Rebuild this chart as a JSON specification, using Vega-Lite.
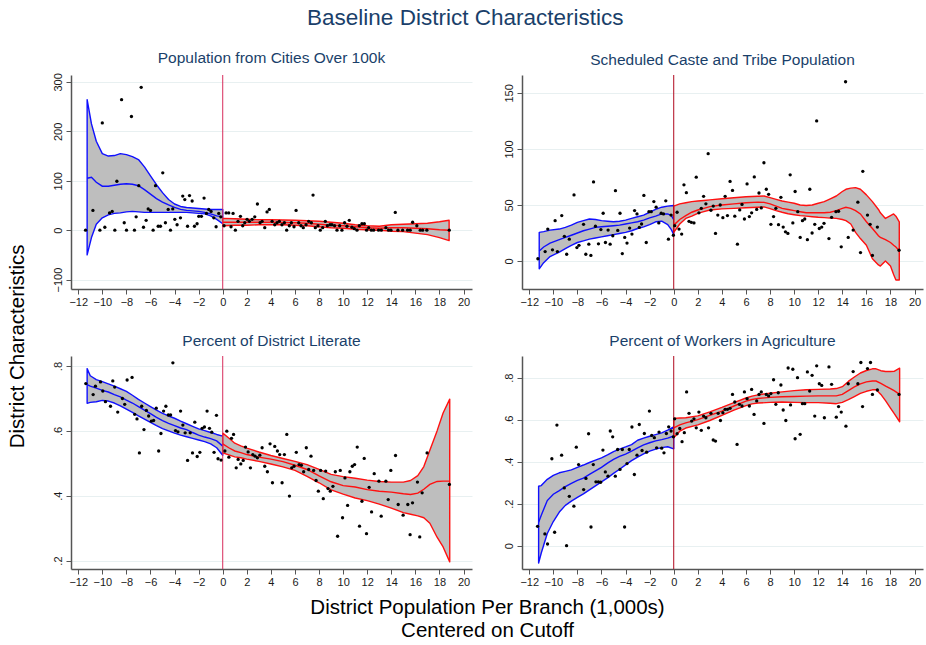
{
  "$schema": "https://vega.github.io/schema/vega-lite/v6.json",
  "background": "white",
  "padding": {"left": 7, "top": 6, "right": 2, "bottom": 0},
  "title": {"text": "Baseline District Characteristics", "fontSize": 22.5, "color": "#1a3f6a", "offset": 22},
  "datasets": {
    "pts": [
      {"p":"a","x":-11.39,"y":0},{"p":"a","x":-10.78,"y":40},{"p":"a","x":-10.0,"y":217},{"p":"a","x":-10.2,"y":0},{"p":"a","x":-9.79,"y":6},{"p":"a","x":-9.4,"y":35},{"p":"a","x":-9.18,"y":38},{"p":"a","x":-8.96,"y":0},{"p":"a","x":-8.79,"y":99},{"p":"a","x":-8.4,"y":264},{"p":"a","x":-8.18,"y":15},{"p":"a","x":-7.99,"y":0},{"p":"a","x":-7.58,"y":230},{"p":"a","x":-7.33,"y":0},{"p":"a","x":-7.19,"y":27},{"p":"a","x":-6.97,"y":90},{"p":"a","x":-6.77,"y":289},{"p":"a","x":-6.58,"y":6},{"p":"a","x":-6.36,"y":20},{"p":"a","x":-6.19,"y":43},{"p":"a","x":-6.0,"y":40},{"p":"a","x":-5.78,"y":0},{"p":"a","x":-5.58,"y":90},{"p":"a","x":-5.36,"y":8},{"p":"a","x":-5.17,"y":8},{"p":"a","x":-4.98,"y":116},{"p":"a","x":-4.76,"y":15},{"p":"a","x":-4.53,"y":42},{"p":"a","x":-4.34,"y":0},{"p":"a","x":-4.15,"y":43},{"p":"a","x":-3.98,"y":22},{"p":"a","x":-3.79,"y":11},{"p":"a","x":-3.51,"y":25},{"p":"a","x":-3.32,"y":69},{"p":"a","x":-3.15,"y":62},{"p":"a","x":-2.92,"y":8},{"p":"a","x":-2.76,"y":70},{"p":"a","x":-2.54,"y":59},{"p":"a","x":-2.35,"y":8},{"p":"a","x":-2.13,"y":13},{"p":"a","x":-1.99,"y":28},{"p":"a","x":-1.77,"y":28},{"p":"a","x":-1.55,"y":65},{"p":"a","x":-1.35,"y":34},{"p":"a","x":-1.16,"y":42},{"p":"a","x":-0.97,"y":38},{"p":"a","x":-0.74,"y":25},{"p":"a","x":-0.55,"y":7},{"p":"a","x":-0.33,"y":34},{"p":"a","x":-0.16,"y":27},
      {"p":"a","x":0.11,"y":9},{"p":"a","x":0.28,"y":35},{"p":"a","x":0.5,"y":35},{"p":"a","x":0.69,"y":7},{"p":"a","x":0.86,"y":34},{"p":"a","x":1.05,"y":0},{"p":"a","x":1.27,"y":18},{"p":"a","x":1.47,"y":28},{"p":"a","x":1.66,"y":9},{"p":"a","x":1.83,"y":15},{"p":"a","x":2.02,"y":22},{"p":"a","x":2.21,"y":18},{"p":"a","x":2.44,"y":22},{"p":"a","x":2.66,"y":27},{"p":"a","x":2.88,"y":53},{"p":"a","x":3.1,"y":15},{"p":"a","x":3.27,"y":18},{"p":"a","x":3.49,"y":5},{"p":"a","x":3.68,"y":37},{"p":"a","x":3.87,"y":42},{"p":"a","x":4.1,"y":18},{"p":"a","x":4.32,"y":11},{"p":"a","x":4.51,"y":15},{"p":"a","x":4.7,"y":18},{"p":"a","x":4.92,"y":11},{"p":"a","x":5.12,"y":15},{"p":"a","x":5.31,"y":0},{"p":"a","x":5.53,"y":9},{"p":"a","x":5.7,"y":15},{"p":"a","x":5.92,"y":7},{"p":"a","x":6.09,"y":40},{"p":"a","x":6.31,"y":15},{"p":"a","x":6.5,"y":9},{"p":"a","x":6.69,"y":5},{"p":"a","x":6.92,"y":11},{"p":"a","x":7.14,"y":18},{"p":"a","x":7.36,"y":15},{"p":"a","x":7.5,"y":71},{"p":"a","x":7.69,"y":5},{"p":"a","x":7.91,"y":9},{"p":"a","x":8.1,"y":0},{"p":"a","x":8.3,"y":5},{"p":"a","x":8.52,"y":18},{"p":"a","x":8.69,"y":9},{"p":"a","x":8.91,"y":11},{"p":"a","x":9.07,"y":11},{"p":"a","x":9.29,"y":9},{"p":"a","x":9.49,"y":0},{"p":"a","x":9.71,"y":9},{"p":"a","x":9.9,"y":0},{"p":"a","x":10.12,"y":15},{"p":"a","x":10.32,"y":8},{"p":"a","x":10.51,"y":20},{"p":"a","x":10.73,"y":6},{"p":"a","x":10.93,"y":3},{"p":"a","x":11.15,"y":0},{"p":"a","x":11.34,"y":9},{"p":"a","x":11.56,"y":13},{"p":"a","x":11.76,"y":13},{"p":"a","x":11.95,"y":0},{"p":"a","x":12.12,"y":5},{"p":"a","x":12.34,"y":0},{"p":"a","x":12.53,"y":0},{"p":"a","x":12.94,"y":0},{"p":"a","x":13.17,"y":0},{"p":"a","x":13.55,"y":5},{"p":"a","x":13.77,"y":0},{"p":"a","x":13.97,"y":0},{"p":"a","x":14.33,"y":36},{"p":"a","x":14.55,"y":0},{"p":"a","x":14.94,"y":0},{"p":"a","x":15.35,"y":0},{"p":"a","x":15.57,"y":0},{"p":"a","x":15.77,"y":16},{"p":"a","x":16.12,"y":9},{"p":"a","x":16.4,"y":0},{"p":"a","x":16.6,"y":0},{"p":"a","x":16.95,"y":0},{"p":"a","x":18.81,"y":0},
      {"p":"b","x":-11.28,"y":2},{"p":"b","x":-10.68,"y":8.4},{"p":"b","x":-10.46,"y":28.5},{"p":"b","x":-10.07,"y":10},{"p":"b","x":-9.85,"y":36},{"p":"b","x":-9.66,"y":8.4},{"p":"b","x":-9.3,"y":40.5},{"p":"b","x":-9.08,"y":22},{"p":"b","x":-8.89,"y":6},{"p":"b","x":-8.67,"y":19.5},{"p":"b","x":-8.28,"y":59},{"p":"b","x":-8.04,"y":12},{"p":"b","x":-7.87,"y":14},{"p":"b","x":-7.49,"y":32.7},{"p":"b","x":-7.3,"y":6},{"p":"b","x":-7.05,"y":15},{"p":"b","x":-6.88,"y":5},{"p":"b","x":-6.66,"y":70.6},{"p":"b","x":-6.5,"y":31},{"p":"b","x":-6.25,"y":15.3},{"p":"b","x":-6.05,"y":28},{"p":"b","x":-5.86,"y":42.6},{"p":"b","x":-5.67,"y":16.5},{"p":"b","x":-5.45,"y":27.6},{"p":"b","x":-5.28,"y":15},{"p":"b","x":-5.06,"y":22.5},{"p":"b","x":-4.84,"y":62.8},{"p":"b","x":-4.65,"y":27.3},{"p":"b","x":-4.46,"y":42.6},{"p":"b","x":-4.27,"y":6.6},{"p":"b","x":-4.07,"y":21},{"p":"b","x":-3.88,"y":16},{"p":"b","x":-3.66,"y":29.4},{"p":"b","x":-3.47,"y":24},{"p":"b","x":-3.25,"y":45},{"p":"b","x":-3.05,"y":42},{"p":"b","x":-2.86,"y":30},{"p":"b","x":-2.67,"y":33},{"p":"b","x":-2.48,"y":58.5},{"p":"b","x":-2.28,"y":16.5},{"p":"b","x":-2.06,"y":44},{"p":"b","x":-1.87,"y":44},{"p":"b","x":-1.65,"y":53},{"p":"b","x":-1.46,"y":48},{"p":"b","x":-1.24,"y":34},{"p":"b","x":-1.04,"y":42.6},{"p":"b","x":-0.85,"y":42},{"p":"b","x":-0.66,"y":53.7},{"p":"b","x":-0.44,"y":19.5},{"p":"b","x":-0.22,"y":41},{"p":"b","x":-0.03,"y":23},
      {"p":"b","x":0.08,"y":31.5},{"p":"b","x":0.28,"y":43.5},{"p":"b","x":0.44,"y":28.5},{"p":"b","x":0.66,"y":24},{"p":"b","x":0.85,"y":68},{"p":"b","x":1.05,"y":61},{"p":"b","x":1.27,"y":35.4},{"p":"b","x":1.46,"y":34.5},{"p":"b","x":1.68,"y":34},{"p":"b","x":1.87,"y":74.8},{"p":"b","x":2.09,"y":43},{"p":"b","x":2.29,"y":47},{"p":"b","x":2.48,"y":57.7},{"p":"b","x":2.67,"y":51},{"p":"b","x":2.86,"y":95.8},{"p":"b","x":3.09,"y":45.3},{"p":"b","x":3.28,"y":49},{"p":"b","x":3.47,"y":24.6},{"p":"b","x":3.66,"y":41},{"p":"b","x":3.86,"y":50},{"p":"b","x":4.08,"y":38.7},{"p":"b","x":4.27,"y":57.7},{"p":"b","x":4.46,"y":40.5},{"p":"b","x":4.68,"y":71},{"p":"b","x":4.88,"y":63},{"p":"b","x":5.07,"y":40},{"p":"b","x":5.29,"y":15},{"p":"b","x":5.48,"y":45.6},{"p":"b","x":5.67,"y":50.5},{"p":"b","x":5.87,"y":37.5},{"p":"b","x":6.09,"y":68.8},{"p":"b","x":6.28,"y":39.6},{"p":"b","x":6.47,"y":43},{"p":"b","x":6.69,"y":75},{"p":"b","x":6.89,"y":46},{"p":"b","x":7.08,"y":60.7},{"p":"b","x":7.27,"y":47.4},{"p":"b","x":7.49,"y":87.7},{"p":"b","x":7.69,"y":64},{"p":"b","x":7.88,"y":59.5},{"p":"b","x":8.07,"y":32.7},{"p":"b","x":8.29,"y":39.6},{"p":"b","x":8.48,"y":47},{"p":"b","x":8.7,"y":32.4},{"p":"b","x":8.9,"y":56.8},{"p":"b","x":9.09,"y":30.3},{"p":"b","x":9.28,"y":26},{"p":"b","x":9.48,"y":24.6},{"p":"b","x":9.67,"y":76.9},{"p":"b","x":9.89,"y":34},{"p":"b","x":10.08,"y":62},{"p":"b","x":10.3,"y":44},{"p":"b","x":10.5,"y":21},{"p":"b","x":10.69,"y":36},{"p":"b","x":10.88,"y":37.5},{"p":"b","x":11.1,"y":19},{"p":"b","x":11.3,"y":64},{"p":"b","x":11.49,"y":25},{"p":"b","x":11.71,"y":32.7},{"p":"b","x":11.87,"y":125},{"p":"b","x":12.09,"y":29},{"p":"b","x":12.29,"y":30.3},{"p":"b","x":12.48,"y":33.6},{"p":"b","x":12.89,"y":20},{"p":"b","x":13.11,"y":39},{"p":"b","x":13.47,"y":44},{"p":"b","x":13.69,"y":44.4},{"p":"b","x":13.91,"y":12.6},{"p":"b","x":14.27,"y":160},{"p":"b","x":14.49,"y":21},{"p":"b","x":14.9,"y":27.6},{"p":"b","x":15.29,"y":52.5},{"p":"b","x":15.51,"y":7.5},{"p":"b","x":15.7,"y":80},{"p":"b","x":16.09,"y":41},{"p":"b","x":16.31,"y":32.7},{"p":"b","x":16.5,"y":5},{"p":"b","x":16.91,"y":30.3},{"p":"b","x":18.71,"y":9.6},
      {"p":"c","x":-11.37,"y":0.746},{"p":"c","x":-10.76,"y":0.712},{"p":"c","x":-10.57,"y":0.738},{"p":"c","x":-10.15,"y":0.751},{"p":"c","x":-9.96,"y":0.723},{"p":"c","x":-9.74,"y":0.69},{"p":"c","x":-9.32,"y":0.676},{"p":"c","x":-9.13,"y":0.754},{"p":"c","x":-8.97,"y":0.735},{"p":"c","x":-8.72,"y":0.658},{"p":"c","x":-8.33,"y":0.7},{"p":"c","x":-8.14,"y":0.682},{"p":"c","x":-7.94,"y":0.757},{"p":"c","x":-7.53,"y":0.765},{"p":"c","x":-7.31,"y":0.651},{"p":"c","x":-7.12,"y":0.637},{"p":"c","x":-6.92,"y":0.532},{"p":"c","x":-6.73,"y":0.676},{"p":"c","x":-6.54,"y":0.604},{"p":"c","x":-6.34,"y":0.663},{"p":"c","x":-6.15,"y":0.646},{"p":"c","x":-5.93,"y":0.63},{"p":"c","x":-5.74,"y":0.632},{"p":"c","x":-5.52,"y":0.67},{"p":"c","x":-5.32,"y":0.538},{"p":"c","x":-5.13,"y":0.592},{"p":"c","x":-4.91,"y":0.661},{"p":"c","x":-4.72,"y":0.676},{"p":"c","x":-4.52,"y":0.649},{"p":"c","x":-4.33,"y":0.649},{"p":"c","x":-4.14,"y":0.81},{"p":"c","x":-3.92,"y":0.601},{"p":"c","x":-3.72,"y":0.597},{"p":"c","x":-3.5,"y":0.661},{"p":"c","x":-3.31,"y":0.618},{"p":"c","x":-3.12,"y":0.594},{"p":"c","x":-2.92,"y":0.509},{"p":"c","x":-2.7,"y":0.594},{"p":"c","x":-2.51,"y":0.532},{"p":"c","x":-2.32,"y":0.627},{"p":"c","x":-2.12,"y":0.521},{"p":"c","x":-1.9,"y":0.534},{"p":"c","x":-1.71,"y":0.608},{"p":"c","x":-1.52,"y":0.612},{"p":"c","x":-1.3,"y":0.661},{"p":"c","x":-1.1,"y":0.608},{"p":"c","x":-0.91,"y":0.596},{"p":"c","x":-0.72,"y":0.534},{"p":"c","x":-0.52,"y":0.648},{"p":"c","x":-0.39,"y":0.514},{"p":"c","x":-0.14,"y":0.51},
      {"p":"c","x":0.18,"y":0.538},{"p":"c","x":0.34,"y":0.599},{"p":"c","x":0.51,"y":0.519},{"p":"c","x":0.73,"y":0.577},{"p":"c","x":0.9,"y":0.589},{"p":"c","x":1.12,"y":0.486},{"p":"c","x":1.28,"y":0.512},{"p":"c","x":1.5,"y":0.498},{"p":"c","x":1.7,"y":0.509},{"p":"c","x":1.89,"y":0.55},{"p":"c","x":2.11,"y":0.535},{"p":"c","x":2.3,"y":0.486},{"p":"c","x":2.5,"y":0.527},{"p":"c","x":2.69,"y":0.522},{"p":"c","x":2.88,"y":0.517},{"p":"c","x":3.08,"y":0.525},{"p":"c","x":3.27,"y":0.548},{"p":"c","x":3.49,"y":0.491},{"p":"c","x":3.71,"y":0.474},{"p":"c","x":3.93,"y":0.56},{"p":"c","x":4.13,"y":0.44},{"p":"c","x":4.32,"y":0.552},{"p":"c","x":4.54,"y":0.538},{"p":"c","x":4.73,"y":0.527},{"p":"c","x":4.93,"y":0.44},{"p":"c","x":5.12,"y":0.527},{"p":"c","x":5.32,"y":0.589},{"p":"c","x":5.54,"y":0.399},{"p":"c","x":5.73,"y":0.486},{"p":"c","x":5.92,"y":0.491},{"p":"c","x":6.11,"y":0.534},{"p":"c","x":6.34,"y":0.496},{"p":"c","x":6.53,"y":0.494},{"p":"c","x":6.72,"y":0.474},{"p":"c","x":6.94,"y":0.548},{"p":"c","x":7.14,"y":0.481},{"p":"c","x":7.33,"y":0.522},{"p":"c","x":7.55,"y":0.478},{"p":"c","x":7.75,"y":0.447},{"p":"c","x":7.94,"y":0.414},{"p":"c","x":8.13,"y":0.478},{"p":"c","x":8.35,"y":0.391},{"p":"c","x":8.55,"y":0.476},{"p":"c","x":8.74,"y":0.422},{"p":"c","x":8.93,"y":0.414},{"p":"c","x":9.15,"y":0.429},{"p":"c","x":9.35,"y":0.474},{"p":"c","x":9.54,"y":0.275},{"p":"c","x":9.76,"y":0.478},{"p":"c","x":9.95,"y":0.332},{"p":"c","x":10.15,"y":0.455},{"p":"c","x":10.37,"y":0.37},{"p":"c","x":10.56,"y":0.474},{"p":"c","x":10.76,"y":0.491},{"p":"c","x":10.95,"y":0.496},{"p":"c","x":11.17,"y":0.55},{"p":"c","x":11.36,"y":0.306},{"p":"c","x":11.56,"y":0.383},{"p":"c","x":11.75,"y":0.515},{"p":"c","x":11.94,"y":0.283},{"p":"c","x":12.16,"y":0.426},{"p":"c","x":12.36,"y":0.35},{"p":"c","x":12.58,"y":0.468},{"p":"c","x":12.97,"y":0.445},{"p":"c","x":13.16,"y":0.337},{"p":"c","x":13.55,"y":0.445},{"p":"c","x":13.74,"y":0.388},{"p":"c","x":13.96,"y":0.478},{"p":"c","x":14.35,"y":0.524},{"p":"c","x":14.57,"y":0.373},{"p":"c","x":14.98,"y":0.34},{"p":"c","x":15.37,"y":0.373},{"p":"c","x":15.56,"y":0.28},{"p":"c","x":15.76,"y":0.378},{"p":"c","x":16.17,"y":0.442},{"p":"c","x":16.36,"y":0.273},{"p":"c","x":16.56,"y":0.409},{"p":"c","x":16.97,"y":0.532},{"p":"c","x":18.82,"y":0.435},
      {"p":"d","x":-11.31,"y":0.092},{"p":"d","x":-10.7,"y":0.056},{"p":"d","x":-10.48,"y":0.008},{"p":"d","x":-10.12,"y":0.414},{"p":"d","x":-9.89,"y":0.064},{"p":"d","x":-9.7,"y":0.574},{"p":"d","x":-9.31,"y":0.431},{"p":"d","x":-9.09,"y":0.275},{"p":"d","x":-8.9,"y":0.0},{"p":"d","x":-8.67,"y":0.235},{"p":"d","x":-8.29,"y":0.188},{"p":"d","x":-8.09,"y":0.469},{"p":"d","x":-7.9,"y":0.386},{"p":"d","x":-7.48,"y":0.267},{"p":"d","x":-7.29,"y":0.32},{"p":"d","x":-7.07,"y":0.533},{"p":"d","x":-6.87,"y":0.089},{"p":"d","x":-6.68,"y":0.386},{"p":"d","x":-6.46,"y":0.304},{"p":"d","x":-6.26,"y":0.304},{"p":"d","x":-6.07,"y":0.302},{"p":"d","x":-5.88,"y":0.455},{"p":"d","x":-5.68,"y":0.351},{"p":"d","x":-5.46,"y":0.331},{"p":"d","x":-5.27,"y":0.546},{"p":"d","x":-5.07,"y":0.518},{"p":"d","x":-4.85,"y":0.331},{"p":"d","x":-4.66,"y":0.458},{"p":"d","x":-4.46,"y":0.363},{"p":"d","x":-4.27,"y":0.458},{"p":"d","x":-4.08,"y":0.089},{"p":"d","x":-3.88,"y":0.391},{"p":"d","x":-3.69,"y":0.458},{"p":"d","x":-3.47,"y":0.565},{"p":"d","x":-3.27,"y":0.339},{"p":"d","x":-3.05,"y":0.431},{"p":"d","x":-2.86,"y":0.577},{"p":"d","x":-2.63,"y":0.453},{"p":"d","x":-2.44,"y":0.534},{"p":"d","x":-2.25,"y":0.445},{"p":"d","x":-2.02,"y":0.641},{"p":"d","x":-1.83,"y":0.525},{"p":"d","x":-1.61,"y":0.514},{"p":"d","x":-1.42,"y":0.466},{"p":"d","x":-1.22,"y":0.541},{"p":"d","x":-1.0,"y":0.464},{"p":"d","x":-0.81,"y":0.442},{"p":"d","x":-0.61,"y":0.534},{"p":"d","x":-0.42,"y":0.566},{"p":"d","x":-0.22,"y":0.546},{"p":"d","x":-0.03,"y":0.518},
      {"p":"d","x":0.08,"y":0.604},{"p":"d","x":0.28,"y":0.533},{"p":"d","x":0.5,"y":0.558},{"p":"d","x":0.69,"y":0.495},{"p":"d","x":0.88,"y":0.538},{"p":"d","x":1.07,"y":0.732},{"p":"d","x":1.27,"y":0.63},{"p":"d","x":1.49,"y":0.593},{"p":"d","x":1.68,"y":0.604},{"p":"d","x":1.87,"y":0.561},{"p":"d","x":2.09,"y":0.636},{"p":"d","x":2.29,"y":0.549},{"p":"d","x":2.48,"y":0.617},{"p":"d","x":2.67,"y":0.609},{"p":"d","x":2.89,"y":0.561},{"p":"d","x":3.09,"y":0.63},{"p":"d","x":3.28,"y":0.503},{"p":"d","x":3.47,"y":0.498},{"p":"d","x":3.69,"y":0.63},{"p":"d","x":3.88,"y":0.596},{"p":"d","x":4.08,"y":0.633},{"p":"d","x":4.27,"y":0.649},{"p":"d","x":4.46,"y":0.649},{"p":"d","x":4.68,"y":0.654},{"p":"d","x":4.88,"y":0.72},{"p":"d","x":5.07,"y":0.684},{"p":"d","x":5.26,"y":0.482},{"p":"d","x":5.45,"y":0.673},{"p":"d","x":5.67,"y":0.665},{"p":"d","x":5.87,"y":0.732},{"p":"d","x":6.09,"y":0.7},{"p":"d","x":6.28,"y":0.665},{"p":"d","x":6.47,"y":0.744},{"p":"d","x":6.67,"y":0.625},{"p":"d","x":6.89,"y":0.689},{"p":"d","x":7.08,"y":0.72},{"p":"d","x":7.27,"y":0.732},{"p":"d","x":7.49,"y":0.582},{"p":"d","x":7.69,"y":0.72},{"p":"d","x":7.88,"y":0.713},{"p":"d","x":8.07,"y":0.724},{"p":"d","x":8.29,"y":0.79},{"p":"d","x":8.48,"y":0.673},{"p":"d","x":8.68,"y":0.728},{"p":"d","x":8.9,"y":0.765},{"p":"d","x":9.09,"y":0.646},{"p":"d","x":9.31,"y":0.596},{"p":"d","x":9.5,"y":0.846},{"p":"d","x":9.7,"y":0.67},{"p":"d","x":9.89,"y":0.84},{"p":"d","x":10.08,"y":0.509},{"p":"d","x":10.28,"y":0.8},{"p":"d","x":10.5,"y":0.53},{"p":"d","x":10.69,"y":0.676},{"p":"d","x":10.88,"y":0.676},{"p":"d","x":11.1,"y":0.827},{"p":"d","x":11.29,"y":0.736},{"p":"d","x":11.49,"y":0.811},{"p":"d","x":11.71,"y":0.617},{"p":"d","x":11.87,"y":0.856},{"p":"d","x":12.09,"y":0.771},{"p":"d","x":12.29,"y":0.763},{"p":"d","x":12.51,"y":0.609},{"p":"d","x":12.89,"y":0.851},{"p":"d","x":13.11,"y":0.768},{"p":"d","x":13.5,"y":0.612},{"p":"d","x":13.69,"y":0.662},{"p":"d","x":13.91,"y":0.636},{"p":"d","x":14.3,"y":0.569},{"p":"d","x":14.49,"y":0.771},{"p":"d","x":14.9,"y":0.829},{"p":"d","x":15.29,"y":0.771},{"p":"d","x":15.54,"y":0.872},{"p":"d","x":15.68,"y":0.662},{"p":"d","x":16.09,"y":0.843},{"p":"d","x":16.34,"y":0.872},{"p":"d","x":16.5,"y":0.72},{"p":"d","x":16.91,"y":0.741},{"p":"d","x":18.71,"y":0.72}
    ],
    "fit": [
      {"p":"a","s":"L","x":-11.26,"lo":-50,"m":105,"hi":264},{"p":"a","s":"L","x":-10.9,"lo":-15,"m":107,"hi":215},{"p":"a","s":"L","x":-10.5,"lo":12,"m":97,"hi":180},{"p":"a","s":"L","x":-10.0,"lo":25,"m":89,"hi":155},{"p":"a","s":"L","x":-9.5,"lo":31,"m":89,"hi":150},{"p":"a","s":"L","x":-9.0,"lo":34,"m":91,"hi":151},{"p":"a","s":"L","x":-8.5,"lo":35,"m":93,"hi":155},{"p":"a","s":"L","x":-8.0,"lo":37,"m":94,"hi":153},{"p":"a","s":"L","x":-7.5,"lo":38,"m":93,"hi":149},{"p":"a","s":"L","x":-7.0,"lo":37,"m":90,"hi":143},{"p":"a","s":"L","x":-6.5,"lo":36,"m":82,"hi":128},{"p":"a","s":"L","x":-6.0,"lo":36,"m":73,"hi":110},{"p":"a","s":"L","x":-5.5,"lo":36,"m":64,"hi":92},{"p":"a","s":"L","x":-5.0,"lo":36,"m":57,"hi":76},{"p":"a","s":"L","x":-4.5,"lo":36,"m":51,"hi":62},{"p":"a","s":"L","x":-4.0,"lo":36,"m":46,"hi":53},{"p":"a","s":"L","x":-3.5,"lo":36,"m":42,"hi":48},{"p":"a","s":"L","x":-3.0,"lo":36,"m":40,"hi":46},{"p":"a","s":"L","x":-2.5,"lo":35,"m":39,"hi":45},{"p":"a","s":"L","x":-2.0,"lo":34,"m":38,"hi":44},{"p":"a","s":"L","x":-1.5,"lo":33,"m":36,"hi":43},{"p":"a","s":"L","x":-1.0,"lo":29,"m":33,"hi":42},{"p":"a","s":"L","x":-0.5,"lo":22,"m":29,"hi":42},{"p":"a","s":"L","x":0,"lo":13,"m":27,"hi":42},
      {"p":"a","s":"R","x":0,"lo":9,"m":16,"hi":24},{"p":"a","s":"R","x":1,"lo":10,"m":16,"hi":23},{"p":"a","s":"R","x":2,"lo":10,"m":16,"hi":22},{"p":"a","s":"R","x":3,"lo":11,"m":16,"hi":21},{"p":"a","s":"R","x":4,"lo":11,"m":16,"hi":21},{"p":"a","s":"R","x":5,"lo":11,"m":15.5,"hi":20.5},{"p":"a","s":"R","x":6,"lo":10,"m":15,"hi":20},{"p":"a","s":"R","x":7,"lo":9,"m":14,"hi":19},{"p":"a","s":"R","x":8,"lo":7,"m":12,"hi":18},{"p":"a","s":"R","x":9,"lo":5,"m":10,"hi":16},{"p":"a","s":"R","x":10,"lo":4,"m":9,"hi":14},{"p":"a","s":"R","x":11,"lo":2,"m":7,"hi":11},{"p":"a","s":"R","x":12,"lo":1,"m":5,"hi":9},{"p":"a","s":"R","x":13,"lo":0,"m":4,"hi":8},{"p":"a","s":"R","x":14,"lo":-2,"m":5,"hi":11},{"p":"a","s":"R","x":15,"lo":-3,"m":5,"hi":12},{"p":"a","s":"R","x":16,"lo":-6,"m":4,"hi":13},{"p":"a","s":"R","x":17,"lo":-9,"m":3,"hi":14},{"p":"a","s":"R","x":18,"lo":-15,"m":1,"hi":17},{"p":"a","s":"R","x":18.8,"lo":-21,"m":0,"hi":20},
      {"p":"b","s":"L","x":-11.17,"lo":-7,"m":9,"hi":25.5},{"p":"b","s":"L","x":-10.8,"lo":-1.5,"m":12.5,"hi":26.2},{"p":"b","s":"L","x":-10.27,"lo":4,"m":16,"hi":27.5},{"p":"b","s":"L","x":-9.5,"lo":8,"m":19,"hi":28.5},{"p":"b","s":"L","x":-9.0,"lo":11,"m":21,"hi":30},{"p":"b","s":"L","x":-8.5,"lo":14,"m":23,"hi":32},{"p":"b","s":"L","x":-8.0,"lo":16.5,"m":25,"hi":34.5},{"p":"b","s":"L","x":-7.5,"lo":18,"m":27,"hi":36},{"p":"b","s":"L","x":-7.0,"lo":19.5,"m":28.5,"hi":37.5},{"p":"b","s":"L","x":-6.5,"lo":20.5,"m":30,"hi":37},{"p":"b","s":"L","x":-6.0,"lo":21.5,"m":30.5,"hi":36},{"p":"b","s":"L","x":-5.5,"lo":22.5,"m":31,"hi":35.5},{"p":"b","s":"L","x":-5.0,"lo":23.5,"m":31.5,"hi":35},{"p":"b","s":"L","x":-4.5,"lo":24.5,"m":32,"hi":35.5},{"p":"b","s":"L","x":-4.0,"lo":25.5,"m":33,"hi":36.5},{"p":"b","s":"L","x":-3.5,"lo":27,"m":34,"hi":38},{"p":"b","s":"L","x":-3.0,"lo":29,"m":35,"hi":39.5},{"p":"b","s":"L","x":-2.5,"lo":30.5,"m":36.5,"hi":41},{"p":"b","s":"L","x":-2.0,"lo":32.5,"m":38.5,"hi":43.5},{"p":"b","s":"L","x":-1.5,"lo":35,"m":40,"hi":46},{"p":"b","s":"L","x":-1.0,"lo":35.5,"m":42,"hi":48},{"p":"b","s":"L","x":-0.5,"lo":32.5,"m":42,"hi":49},{"p":"b","s":"L","x":-0.2,"lo":28,"m":40.5,"hi":49.3},{"p":"b","s":"L","x":0,"lo":23.5,"m":37,"hi":49.5},
      {"p":"b","s":"R","x":0,"lo":25.5,"m":32,"hi":49},{"p":"b","s":"R","x":0.5,"lo":33,"m":37,"hi":51},{"p":"b","s":"R","x":1.0,"lo":38,"m":40.5,"hi":52},{"p":"b","s":"R","x":1.5,"lo":40,"m":43.5,"hi":53},{"p":"b","s":"R","x":2.0,"lo":42.5,"m":45.5,"hi":53.5},{"p":"b","s":"R","x":2.5,"lo":44,"m":47,"hi":54},{"p":"b","s":"R","x":3.0,"lo":45.5,"m":48.5,"hi":54.5},{"p":"b","s":"R","x":4.0,"lo":46.5,"m":50,"hi":55.5},{"p":"b","s":"R","x":5.0,"lo":47,"m":51,"hi":56.5},{"p":"b","s":"R","x":6.0,"lo":47.5,"m":52,"hi":57.3},{"p":"b","s":"R","x":7.0,"lo":48,"m":52.5,"hi":57.8},{"p":"b","s":"R","x":7.5,"lo":48.3,"m":52.3,"hi":58},{"p":"b","s":"R","x":8.0,"lo":46.8,"m":51,"hi":56.5},{"p":"b","s":"R","x":8.5,"lo":45,"m":49,"hi":55},{"p":"b","s":"R","x":9.0,"lo":43.5,"m":47,"hi":53.5},{"p":"b","s":"R","x":9.5,"lo":42.2,"m":46,"hi":52.5},{"p":"b","s":"R","x":10.0,"lo":41.3,"m":45,"hi":51.5},{"p":"b","s":"R","x":10.5,"lo":40.5,"m":44,"hi":50},{"p":"b","s":"R","x":11.0,"lo":40,"m":43,"hi":49.5},{"p":"b","s":"R","x":11.5,"lo":39.5,"m":43,"hi":50},{"p":"b","s":"R","x":12.0,"lo":39,"m":43,"hi":51.5},{"p":"b","s":"R","x":12.5,"lo":38.7,"m":43,"hi":53},{"p":"b","s":"R","x":13.0,"lo":38.3,"m":43.5,"hi":55.5},{"p":"b","s":"R","x":13.5,"lo":38,"m":45,"hi":58},{"p":"b","s":"R","x":14.0,"lo":37,"m":47,"hi":62},{"p":"b","s":"R","x":14.3,"lo":36,"m":48,"hi":64},{"p":"b","s":"R","x":14.7,"lo":33,"m":47,"hi":65},{"p":"b","s":"R","x":15.1,"lo":25.5,"m":45,"hi":65.5},{"p":"b","s":"R","x":15.5,"lo":20,"m":42,"hi":64},{"p":"b","s":"R","x":16.0,"lo":14,"m":35,"hi":59},{"p":"b","s":"R","x":16.5,"lo":2,"m":29,"hi":53},{"p":"b","s":"R","x":17.0,"lo":-3.5,"m":22.5,"hi":46},{"p":"b","s":"R","x":17.16,"lo":-4.5,"m":21,"hi":43},{"p":"b","s":"R","x":17.58,"lo":0,"m":19,"hi":38},{"p":"b","s":"R","x":18.0,"lo":-4.5,"m":16.5,"hi":40.5},{"p":"b","s":"R","x":18.26,"lo":-12,"m":14,"hi":42},{"p":"b","s":"R","x":18.45,"lo":-17,"m":12.5,"hi":40},{"p":"b","s":"R","x":18.73,"lo":-17,"m":9,"hi":35},
      {"p":"c","s":"L","x":-11.26,"lo":0.685,"m":0.743,"hi":0.792},{"p":"c","s":"L","x":-11.0,"lo":0.688,"m":0.738,"hi":0.77},{"p":"c","s":"L","x":-10.5,"lo":0.69,"m":0.732,"hi":0.758},{"p":"c","s":"L","x":-10.0,"lo":0.694,"m":0.725,"hi":0.752},{"p":"c","s":"L","x":-9.5,"lo":0.692,"m":0.72,"hi":0.745},{"p":"c","s":"L","x":-9.0,"lo":0.686,"m":0.712,"hi":0.738},{"p":"c","s":"L","x":-8.5,"lo":0.677,"m":0.705,"hi":0.73},{"p":"c","s":"L","x":-8.0,"lo":0.667,"m":0.695,"hi":0.722},{"p":"c","s":"L","x":-7.5,"lo":0.657,"m":0.686,"hi":0.71},{"p":"c","s":"L","x":-7.0,"lo":0.646,"m":0.675,"hi":0.697},{"p":"c","s":"L","x":-6.5,"lo":0.636,"m":0.664,"hi":0.686},{"p":"c","s":"L","x":-6.0,"lo":0.626,"m":0.653,"hi":0.675},{"p":"c","s":"L","x":-5.5,"lo":0.616,"m":0.642,"hi":0.664},{"p":"c","s":"L","x":-5.0,"lo":0.607,"m":0.632,"hi":0.654},{"p":"c","s":"L","x":-4.5,"lo":0.6,"m":0.623,"hi":0.646},{"p":"c","s":"L","x":-4.0,"lo":0.593,"m":0.616,"hi":0.639},{"p":"c","s":"L","x":-3.5,"lo":0.587,"m":0.609,"hi":0.63},{"p":"c","s":"L","x":-3.0,"lo":0.582,"m":0.604,"hi":0.622},{"p":"c","s":"L","x":-2.5,"lo":0.577,"m":0.595,"hi":0.614},{"p":"c","s":"L","x":-2.0,"lo":0.572,"m":0.587,"hi":0.606},{"p":"c","s":"L","x":-1.5,"lo":0.567,"m":0.581,"hi":0.601},{"p":"c","s":"L","x":-1.0,"lo":0.56,"m":0.576,"hi":0.595},{"p":"c","s":"L","x":-0.5,"lo":0.548,"m":0.569,"hi":0.589},{"p":"c","s":"L","x":0,"lo":0.525,"m":0.553,"hi":0.584},
      {"p":"c","s":"R","x":0,"lo":0.532,"m":0.56,"hi":0.593},{"p":"c","s":"R","x":0.5,"lo":0.526,"m":0.548,"hi":0.578},{"p":"c","s":"R","x":1.0,"lo":0.52,"m":0.538,"hi":0.562},{"p":"c","s":"R","x":1.5,"lo":0.517,"m":0.533,"hi":0.554},{"p":"c","s":"R","x":2.0,"lo":0.513,"m":0.527,"hi":0.547},{"p":"c","s":"R","x":3.0,"lo":0.506,"m":0.519,"hi":0.535},{"p":"c","s":"R","x":4.0,"lo":0.498,"m":0.513,"hi":0.524},{"p":"c","s":"R","x":5.0,"lo":0.489,"m":0.505,"hi":0.515},{"p":"c","s":"R","x":6.0,"lo":0.478,"m":0.494,"hi":0.506},{"p":"c","s":"R","x":7.0,"lo":0.46,"m":0.481,"hi":0.496},{"p":"c","s":"R","x":8.0,"lo":0.44,"m":0.461,"hi":0.481},{"p":"c","s":"R","x":9.0,"lo":0.418,"m":0.443,"hi":0.466},{"p":"c","s":"R","x":10.0,"lo":0.405,"m":0.431,"hi":0.459},{"p":"c","s":"R","x":11.0,"lo":0.393,"m":0.427,"hi":0.454},{"p":"c","s":"R","x":12.0,"lo":0.385,"m":0.419,"hi":0.448},{"p":"c","s":"R","x":13.0,"lo":0.374,"m":0.414,"hi":0.444},{"p":"c","s":"R","x":14.0,"lo":0.362,"m":0.411,"hi":0.442},{"p":"c","s":"R","x":15.0,"lo":0.348,"m":0.406,"hi":0.442},{"p":"c","s":"R","x":15.6,"lo":0.343,"m":0.404,"hi":0.447},{"p":"c","s":"R","x":16.2,"lo":0.338,"m":0.408,"hi":0.462},{"p":"c","s":"R","x":16.7,"lo":0.332,"m":0.42,"hi":0.49},{"p":"c","s":"R","x":17.2,"lo":0.315,"m":0.435,"hi":0.54},{"p":"c","s":"R","x":17.8,"lo":0.272,"m":0.444,"hi":0.6},{"p":"c","s":"R","x":18.3,"lo":0.242,"m":0.445,"hi":0.655},{"p":"c","s":"R","x":18.85,"lo":0.196,"m":0.445,"hi":0.698},
      {"p":"d","s":"L","x":-11.22,"lo":-0.083,"m":0.111,"hi":0.283},{"p":"d","s":"L","x":-11.0,"lo":-0.035,"m":0.145,"hi":0.286},{"p":"d","s":"L","x":-10.5,"lo":0.058,"m":0.215,"hi":0.316},{"p":"d","s":"L","x":-10.0,"lo":0.115,"m":0.245,"hi":0.335},{"p":"d","s":"L","x":-9.5,"lo":0.16,"m":0.262,"hi":0.347},{"p":"d","s":"L","x":-9.0,"lo":0.192,"m":0.281,"hi":0.354},{"p":"d","s":"L","x":-8.5,"lo":0.212,"m":0.297,"hi":0.361},{"p":"d","s":"L","x":-8.0,"lo":0.23,"m":0.311,"hi":0.373},{"p":"d","s":"L","x":-7.5,"lo":0.247,"m":0.322,"hi":0.384},{"p":"d","s":"L","x":-7.0,"lo":0.266,"m":0.339,"hi":0.396},{"p":"d","s":"L","x":-6.5,"lo":0.285,"m":0.356,"hi":0.407},{"p":"d","s":"L","x":-6.0,"lo":0.304,"m":0.373,"hi":0.418},{"p":"d","s":"L","x":-5.5,"lo":0.323,"m":0.393,"hi":0.432},{"p":"d","s":"L","x":-5.0,"lo":0.344,"m":0.411,"hi":0.448},{"p":"d","s":"L","x":-4.5,"lo":0.364,"m":0.425,"hi":0.46},{"p":"d","s":"L","x":-4.0,"lo":0.385,"m":0.436,"hi":0.47},{"p":"d","s":"L","x":-3.5,"lo":0.405,"m":0.45,"hi":0.481},{"p":"d","s":"L","x":-3.0,"lo":0.422,"m":0.466,"hi":0.502},{"p":"d","s":"L","x":-2.5,"lo":0.437,"m":0.48,"hi":0.512},{"p":"d","s":"L","x":-2.0,"lo":0.45,"m":0.49,"hi":0.521},{"p":"d","s":"L","x":-1.5,"lo":0.46,"m":0.499,"hi":0.529},{"p":"d","s":"L","x":-1.0,"lo":0.467,"m":0.505,"hi":0.537},{"p":"d","s":"L","x":-0.5,"lo":0.471,"m":0.512,"hi":0.55},{"p":"d","s":"L","x":0,"lo":0.461,"m":0.522,"hi":0.566},
      {"p":"d","s":"R","x":0,"lo":0.514,"m":0.561,"hi":0.606},{"p":"d","s":"R","x":0.5,"lo":0.545,"m":0.575,"hi":0.608},{"p":"d","s":"R","x":1.0,"lo":0.56,"m":0.585,"hi":0.609},{"p":"d","s":"R","x":2.0,"lo":0.575,"m":0.6,"hi":0.618},{"p":"d","s":"R","x":3.0,"lo":0.596,"m":0.62,"hi":0.637},{"p":"d","s":"R","x":4.0,"lo":0.62,"m":0.641,"hi":0.658},{"p":"d","s":"R","x":5.0,"lo":0.645,"m":0.665,"hi":0.681},{"p":"d","s":"R","x":6.0,"lo":0.667,"m":0.688,"hi":0.703},{"p":"d","s":"R","x":6.5,"lo":0.675,"m":0.696,"hi":0.712},{"p":"d","s":"R","x":7.0,"lo":0.679,"m":0.701,"hi":0.718},{"p":"d","s":"R","x":8.0,"lo":0.682,"m":0.706,"hi":0.726},{"p":"d","s":"R","x":9.0,"lo":0.684,"m":0.709,"hi":0.732},{"p":"d","s":"R","x":10.0,"lo":0.682,"m":0.71,"hi":0.738},{"p":"d","s":"R","x":11.0,"lo":0.681,"m":0.712,"hi":0.742},{"p":"d","s":"R","x":12.0,"lo":0.681,"m":0.713,"hi":0.744},{"p":"d","s":"R","x":13.0,"lo":0.678,"m":0.713,"hi":0.746},{"p":"d","s":"R","x":13.5,"lo":0.676,"m":0.713,"hi":0.748},{"p":"d","s":"R","x":14.0,"lo":0.682,"m":0.72,"hi":0.757},{"p":"d","s":"R","x":14.5,"lo":0.695,"m":0.738,"hi":0.782},{"p":"d","s":"R","x":15.0,"lo":0.71,"m":0.756,"hi":0.803},{"p":"d","s":"R","x":15.5,"lo":0.725,"m":0.77,"hi":0.822},{"p":"d","s":"R","x":16.0,"lo":0.735,"m":0.78,"hi":0.834},{"p":"d","s":"R","x":16.5,"lo":0.742,"m":0.784,"hi":0.842},{"p":"d","s":"R","x":16.8,"lo":0.743,"m":0.784,"hi":0.842},{"p":"d","s":"R","x":17.2,"lo":0.72,"m":0.773,"hi":0.833},{"p":"d","s":"R","x":17.6,"lo":0.689,"m":0.76,"hi":0.829},{"p":"d","s":"R","x":18.0,"lo":0.655,"m":0.748,"hi":0.829},{"p":"d","s":"R","x":18.3,"lo":0.63,"m":0.738,"hi":0.83},{"p":"d","s":"R","x":18.76,"lo":0.59,"m":0.72,"hi":0.845}
    ]
  },
  "vconcat": [
    {
      "title": {"text": "District Characteristics", "orient": "left", "fontSize": 20.5, "color": "#000000", "offset": 24},
      "vconcat": [
        {
          "title": {"text": ["District Population Per Branch (1,000s)", "Centered on Cutoff"], "orient": "bottom", "fontSize": 20.5, "color": "#000000", "offset": 11, "lineHeight": 23},
          "columns": 2,
          "spacing": {"row": 67, "column": 50},
          "bounds": "flush",
          "concat": [
            {
              "title": "Population from Cities Over 100k",
              "width": 401, "height": 214,
              "layer": [
                {"data": {"name": "fit"}, "transform": [{"filter": "datum.p === 'a'"}],
                 "mark": {"type": "area", "fill": "#bebebe", "fillOpacity": 1, "strokeWidth": 1.4, "strokeJoin": "round"},
                 "encoding": {
                   "x": {"field": "x", "type": "quantitative", "scale": {"domain": [-12.6, 20.7], "nice": false, "zero": false}, "axis": {"values": [-12,-10,-8,-6,-4,-2,0,2,4,6,8,10,12,14,16,18,20], "tickCount": 40, "labelOverlap": false}},
                   "y": {"field": "lo", "type": "quantitative", "scale": {"domain": [-119, 314], "nice": false, "zero": false}, "axis": {"values": [-100,0,100,200,300], "tickCount": 10, "labelOverlap": false}},
                   "y2": {"field": "hi"},
                   "stroke": {"field": "s", "type": "nominal", "scale": {"domain": ["L","R"], "range": ["#1010ff","#ff1010"]}, "legend": null}
                 }},
                {"data": {"name": "fit"}, "transform": [{"filter": "datum.p === 'a'"}],
                 "mark": {"type": "line", "strokeWidth": 1.4},
                 "encoding": {
                   "x": {"field": "x", "type": "quantitative"},
                   "y": {"field": "m", "type": "quantitative"},
                   "stroke": {"field": "s", "type": "nominal", "legend": null}
                 }},
                {"data": {"values": [{"cut": 0}]},
                 "mark": {"type": "rule", "color": "#d82c5c", "strokeWidth": 1},
                 "encoding": {"x": {"field": "cut", "type": "quantitative"}}},
                {"data": {"name": "pts"}, "transform": [{"filter": "datum.p === 'a'"}],
                 "mark": {"type": "circle", "size": 11, "color": "#000000", "opacity": 1},
                 "encoding": {"x": {"field": "x", "type": "quantitative"}, "y": {"field": "y", "type": "quantitative"}}}
              ]
            },
            {
              "title": "Scheduled Caste and Tribe Population",
              "width": 401, "height": 214,
              "layer": [
                {"data": {"name": "fit"}, "transform": [{"filter": "datum.p === 'b'"}],
                 "mark": {"type": "area", "fill": "#bebebe", "fillOpacity": 1, "strokeWidth": 1.4, "strokeJoin": "round"},
                 "encoding": {
                   "x": {"field": "x", "type": "quantitative", "scale": {"domain": [-12.6, 20.7], "nice": false, "zero": false}, "axis": {"values": [-12,-10,-8,-6,-4,-2,0,2,4,6,8,10,12,14,16,18,20], "tickCount": 40, "labelOverlap": false}},
                   "y": {"field": "lo", "type": "quantitative", "scale": {"domain": [-25, 166], "nice": false, "zero": false}, "axis": {"values": [0,50,100,150], "tickCount": 10, "labelOverlap": false}},
                   "y2": {"field": "hi"},
                   "stroke": {"field": "s", "type": "nominal", "scale": {"domain": ["L","R"], "range": ["#1010ff","#ff1010"]}, "legend": null}
                 }},
                {"data": {"name": "fit"}, "transform": [{"filter": "datum.p === 'b'"}],
                 "mark": {"type": "line", "strokeWidth": 1.4},
                 "encoding": {
                   "x": {"field": "x", "type": "quantitative"},
                   "y": {"field": "m", "type": "quantitative"},
                   "stroke": {"field": "s", "type": "nominal", "legend": null}
                 }},
                {"data": {"values": [{"cut": 0}]},
                 "mark": {"type": "rule", "color": "#b0081e", "strokeWidth": 1},
                 "encoding": {"x": {"field": "cut", "type": "quantitative"}}},
                {"data": {"name": "pts"}, "transform": [{"filter": "datum.p === 'b'"}],
                 "mark": {"type": "circle", "size": 11, "color": "#000000", "opacity": 1},
                 "encoding": {"x": {"field": "x", "type": "quantitative"}, "y": {"field": "y", "type": "quantitative"}}}
              ]
            },
            {
              "title": "Percent of District Literate",
              "width": 401, "height": 213,
              "layer": [
                {"data": {"name": "fit"}, "transform": [{"filter": "datum.p === 'c'"}],
                 "mark": {"type": "area", "fill": "#bebebe", "fillOpacity": 1, "strokeWidth": 1.4, "strokeJoin": "round"},
                 "encoding": {
                   "x": {"field": "x", "type": "quantitative", "scale": {"domain": [-12.6, 20.7], "nice": false, "zero": false}, "axis": {"values": [-12,-10,-8,-6,-4,-2,0,2,4,6,8,10,12,14,16,18,20], "tickCount": 40, "labelOverlap": false}},
                   "y": {"field": "lo", "type": "quantitative", "scale": {"domain": [0.174, 0.831], "nice": false, "zero": false}, "axis": {"values": [0.2,0.4,0.6,0.8], "tickCount": 10, "labelOverlap": false, "labelExpr": "datum.value == 0 ? '0' : replace(format(datum.value, '.1f'), '0.', '.')"}},
                   "y2": {"field": "hi"},
                   "stroke": {"field": "s", "type": "nominal", "scale": {"domain": ["L","R"], "range": ["#1010ff","#ff1010"]}, "legend": null}
                 }},
                {"data": {"name": "fit"}, "transform": [{"filter": "datum.p === 'c'"}],
                 "mark": {"type": "line", "strokeWidth": 1.4},
                 "encoding": {
                   "x": {"field": "x", "type": "quantitative"},
                   "y": {"field": "m", "type": "quantitative"},
                   "stroke": {"field": "s", "type": "nominal", "legend": null}
                 }},
                {"data": {"values": [{"cut": 0}]},
                 "mark": {"type": "rule", "color": "#d82c5c", "strokeWidth": 1},
                 "encoding": {"x": {"field": "cut", "type": "quantitative"}}},
                {"data": {"name": "pts"}, "transform": [{"filter": "datum.p === 'c'"}],
                 "mark": {"type": "circle", "size": 11, "color": "#000000", "opacity": 1},
                 "encoding": {"x": {"field": "x", "type": "quantitative"}, "y": {"field": "y", "type": "quantitative"}}}
              ]
            },
            {
              "title": "Percent of Workers in Agriculture",
              "width": 401, "height": 213,
              "layer": [
                {"data": {"name": "fit"}, "transform": [{"filter": "datum.p === 'd'"}],
                 "mark": {"type": "area", "fill": "#bebebe", "fillOpacity": 1, "strokeWidth": 1.4, "strokeJoin": "round"},
                 "encoding": {
                   "x": {"field": "x", "type": "quantitative", "scale": {"domain": [-12.6, 20.7], "nice": false, "zero": false}, "axis": {"values": [-12,-10,-8,-6,-4,-2,0,2,4,6,8,10,12,14,16,18,20], "tickCount": 40, "labelOverlap": false}},
                   "y": {"field": "lo", "type": "quantitative", "scale": {"domain": [-0.111, 0.903], "nice": false, "zero": false}, "axis": {"values": [0,0.2,0.4,0.6,0.8], "tickCount": 10, "labelOverlap": false, "labelExpr": "datum.value == 0 ? '0' : replace(format(datum.value, '.1f'), '0.', '.')"}},
                   "y2": {"field": "hi"},
                   "stroke": {"field": "s", "type": "nominal", "scale": {"domain": ["L","R"], "range": ["#1010ff","#ff1010"]}, "legend": null}
                 }},
                {"data": {"name": "fit"}, "transform": [{"filter": "datum.p === 'd'"}],
                 "mark": {"type": "line", "strokeWidth": 1.4},
                 "encoding": {
                   "x": {"field": "x", "type": "quantitative"},
                   "y": {"field": "m", "type": "quantitative"},
                   "stroke": {"field": "s", "type": "nominal", "legend": null}
                 }},
                {"data": {"values": [{"cut": 0}]},
                 "mark": {"type": "rule", "color": "#b0081e", "strokeWidth": 1},
                 "encoding": {"x": {"field": "cut", "type": "quantitative"}}},
                {"data": {"name": "pts"}, "transform": [{"filter": "datum.p === 'd'"}],
                 "mark": {"type": "circle", "size": 11, "color": "#000000", "opacity": 1},
                 "encoding": {"x": {"field": "x", "type": "quantitative"}, "y": {"field": "y", "type": "quantitative"}}}
              ]
            }
          ]
        }
      ]
    }
  ],
  "config": {
    "font": "Liberation Sans",
    "view": {"stroke": null},
    "title": {"fontWeight": "normal", "color": "#1a3f6a", "fontSize": 15.5, "offset": 6, "anchor": "middle"},
    "axis": {"title": null, "domainColor": "#555555", "domainWidth": 1.5, "tickColor": "#555555", "tickWidth": 1, "tickSize": 5, "labelFont": "Liberation Sans", "labelFontSize": 11, "labelColor": "#1a1a1a", "labelOverlap": false, "gridColor": "#e8f0f1", "gridWidth": 1},
    "axisX": {"grid": false, "labelPadding": 2, "labelFlush": false},
    "axisY": {"grid": true, "labelAngle": -90, "labelAlign": "center", "labelBaseline": "bottom", "labelPadding": 3}
  }
}
